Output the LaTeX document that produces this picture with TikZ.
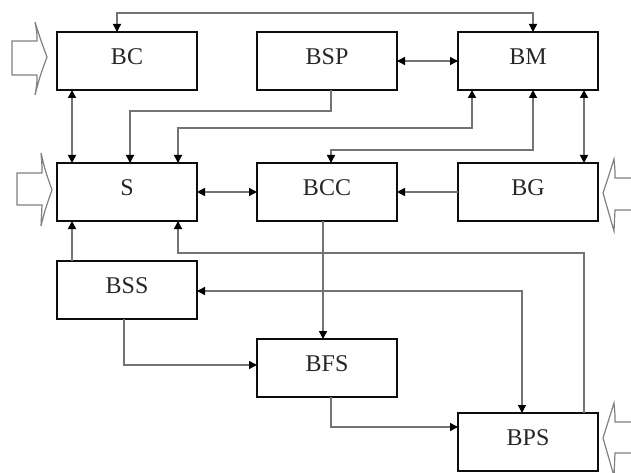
\documentclass[tikz,border=0pt]{standalone}
\usepackage{fontspec}
\setmainfont{Liberation Serif}
\usetikzlibrary{arrows.meta}
\begin{document}
\begin{tikzpicture}[x=1pt,y=-1pt,
  blk/.style={draw=black!95,line width=2.7pt,minimum width=140pt,minimum height=58pt,inner sep=0pt,outer sep=0pt,
    font=\fontsize{24}{28}\selectfont,text=black!85,text height=17pt,text depth=10pt},
  conn/.style={draw=black!55,line width=1.4pt,>={Triangle[length=8pt,width=8pt,color=black]}},
  hollow/.style={draw=black!50,line width=1.2pt,line join=miter}]
\useasboundingbox (0,0) rectangle (631,473);
\clip (0,0) rectangle (631,473);
\node[blk] (BC)  at (127,61)  {BC};
\node[blk] (BSP) at (327,61)  {BSP};
\node[blk] (BM)  at (528,61)  {BM};
\node[blk] (S)   at (127,192) {S};
\node[blk] (BCC) at (327,192) {BCC};
\node[blk] (BG)  at (528,192) {BG};
\node[blk] (BSS) at (127,290) {BSS};
\node[blk] (BFS) at (327,368) {BFS};
\node[blk] (BPS) at (528,442) {BPS};
% connectors
\draw[conn,<->] ([xshift=-10pt]BC.north) -- ++(0,-19) -| ([xshift=5pt]BM.north);
\draw[conn,<->] (BSP.east) -- (BM.west);
\draw[conn,<->] ([xshift=-55pt]BC.south) -- ([xshift=-55pt]S.north);
\draw[conn,->] ([xshift=4pt]BSP.south) -- ++(0,21) -| ([xshift=3pt]S.north);
\draw[conn,<->] ([xshift=51pt]S.north) -- ++(0,-35) -| ([xshift=-56pt]BM.south);
\draw[conn,<->] ([xshift=4pt]BCC.north) -- ++(0,-13) -| ([xshift=5pt]BM.south);
\draw[conn,<->] ([xshift=56pt]BM.south) -- ([xshift=56pt]BG.north);
\draw[conn,->] (BG.west) -- (BCC.east);
\draw[conn,<->] (S.east) -- (BCC.west);
\draw[conn,->] ([xshift=-55pt]BSS.north) -- ([xshift=-55pt]S.south);
\draw[conn,->] ([xshift=56pt]BPS.north) -- ++(0,-160) -| ([xshift=51pt]S.south);
\draw[conn,<->] ([yshift=-1pt]BSS.east) -| ([xshift=-6pt]BPS.north);
\draw[conn,->] ([xshift=-4pt]BCC.south) -- ([xshift=-4pt]BFS.north);
\draw[conn,->] ([xshift=-3pt]BSS.south) |- ([yshift=3pt]BFS.west);
\draw[conn,->] ([xshift=4pt]BFS.south) |- ([yshift=15pt]BPS.west);
% hollow input arrows
\draw[hollow] (12,41) -- (37,41) .. controls (37,33) .. (35,22) .. controls (40,38) .. (47,57) .. controls (40,76) .. (35,95) .. controls (37,84) .. (37,75) -- (12,75) -- cycle;
\draw[hollow] (17,173) -- (42,173) .. controls (42,165) .. (41,153) .. controls (45,170) .. (52,190) .. controls (45,210) .. (41,226) .. controls (42,215) .. (42,205) -- (17,205) -- cycle;
\draw[hollow] (640,178) -- (615,178) .. controls (615,170) .. (614,159) .. controls (609,175) .. (603,193) .. controls (609,212) .. (614,231) .. controls (615,220) .. (615,210) -- (640,210);
\draw[hollow] (640,422) -- (615,422) .. controls (615,414) .. (614,403) .. controls (609,420) .. (603,438) .. controls (609,457) .. (614,476) .. controls (615,464) .. (615,453) -- (640,453);
\end{tikzpicture}
\end{document}
